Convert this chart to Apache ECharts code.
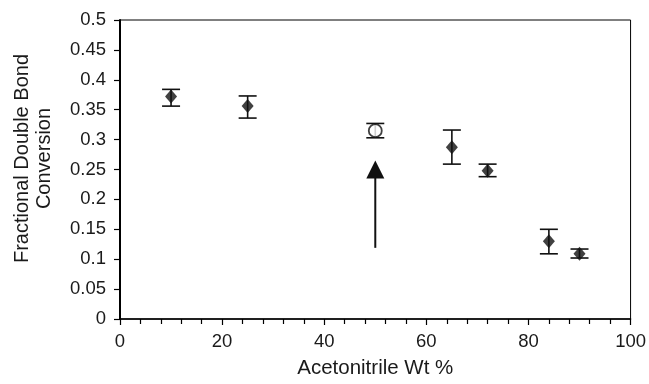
<!DOCTYPE html>
<html><head><meta charset="utf-8">
<script src="https://cdn.jsdelivr.net/npm/echarts@6/dist/echarts.min.js"></script>
<style>html,body{margin:0;padding:0;background:#fff}#c{width:649px;height:384px}</style>
</head><body><div id="c"></div>
<script>
const xValues = [10, 25, 65, 72, 84, 90];
const yValues = [0.372, 0.356, 0.287, 0.248, 0.130, 0.109];
const yLow = [0.356, 0.336, 0.259, 0.238, 0.109, 0.102];
const yHigh = [0.384, 0.373, 0.316, 0.259, 0.150, 0.117];
const openX = [50];
const openY = [0.315];
const openLow = [0.303];
const openHigh = [0.327];
const arrowX = 50, arrowFrom = 0.119, arrowTo = 0.265;

const errData = xValues.map((x,i)=>[x, yLow[i], yHigh[i]]).concat(openX.map((x,i)=>[x, openLow[i], openHigh[i]]));
const font = 'Liberation Sans, Arial, sans-serif';
const chart = echarts.init(document.getElementById('c'));
chart.setOption({
  animation:false,
  backgroundColor:'#fff',
  grid:{left:120,right:16,top:20,bottom:62,show:true,borderColor:'#000',borderWidth:1,backgroundColor:'transparent'},
  xAxis:{type:'value',min:0,max:100,interval:20,
    name:'Acetonitrile Wt %',nameLocation:'middle',nameGap:39,
    nameTextStyle:{color:'#1a1a1a',fontSize:20.5,fontFamily:font},
    axisLine:{show:true,lineStyle:{color:'#000',width:1.5}},
    axisTick:{show:true,inside:false,length:6,lineStyle:{color:'#000',width:1.2}},
    minorTick:{show:true,splitNumber:5,length:5,lineStyle:{color:'#000',width:1.2}},
    axisLabel:{color:'#1a1a1a',fontSize:18.5,fontFamily:font,margin:13},
    splitLine:{show:false}},
  yAxis:{type:'value',min:0,max:0.5,interval:0.05,
    name:'Fractional Double Bond\nConversion',nameLocation:'middle',nameGap:65,nameRotate:90,
    nameTextStyle:{color:'#1a1a1a',fontSize:20,fontFamily:font,lineHeight:22,padding:[0,0,0,22]},
    axisLine:{show:true,lineStyle:{color:'#000',width:2}},
    axisTick:{show:true,inside:false,length:6,lineStyle:{color:'#000',width:1.2}},
    axisLabel:{color:'#1a1a1a',fontSize:18.5,fontFamily:font,margin:14},
    splitLine:{show:false}},
  series:[
    {type:'custom',z:2,data:errData,
      renderItem:function(params,api){
        const x=api.value(0);
        const lo=api.coord([x,api.value(1)]);
        const hi=api.coord([x,api.value(2)]);
        const w=9;
        const st={stroke:'#111',lineWidth:1.6};
        return {type:'group',children:[
          {type:'line',shape:{x1:lo[0],y1:lo[1],x2:hi[0],y2:hi[1]},style:st},
          {type:'line',shape:{x1:lo[0]-w,y1:lo[1],x2:lo[0]+w,y2:lo[1]},style:st},
          {type:'line',shape:{x1:hi[0]-w,y1:hi[1],x2:hi[0]+w,y2:hi[1]},style:st}
        ]};
      }},
    {type:'scatter',z:3,symbol:'diamond',symbolSize:[12,14],
      itemStyle:{color:'#111'},data:xValues.map((x,i)=>[x,yValues[i]])},
    {type:'scatter',z:3,symbol:'circle',symbolSize:13,
      itemStyle:{color:'#fff',borderColor:'#111',borderWidth:1.8},
      data:openX.map((x,i)=>[x,openY[i]])},
    {type:'custom',z:2,data:[[arrowX,arrowFrom,arrowTo]],
      renderItem:function(params,api){
        const x=api.value(0);
        const a=api.coord([x,api.value(1)]);
        const b=api.coord([x,api.value(2)]);
        const hw=9, hl=18;
        return {type:'group',children:[
          {type:'line',shape:{x1:a[0],y1:a[1],x2:b[0],y2:b[1]+hl-1},style:{stroke:'#111',lineWidth:2}},
          {type:'polygon',shape:{points:[[b[0],b[1]],[b[0]-hw,b[1]+hl],[b[0]+hw,b[1]+hl]]},style:{fill:'#111'}}
        ]};
      }}
  ]
});
</script></body></html>
